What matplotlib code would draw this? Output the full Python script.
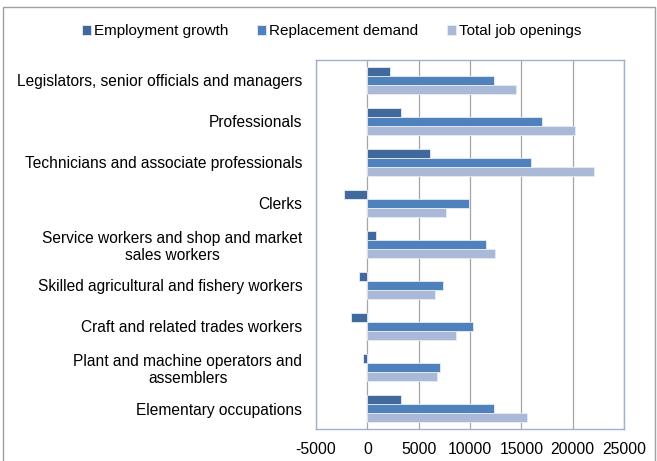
import matplotlib
matplotlib.use("Agg")
import matplotlib.pyplot as plt
import numpy as np
from matplotlib.patches import Rectangle

plt.rcParams['font.family'] = ['Liberation Sans', 'DejaVu Sans']

categories = ["Legislators, senior officials and managers",
              "Professionals",
              "Technicians and associate professionals",
              "Clerks",
              "Service workers and shop and market\nsales workers",
              "Skilled agricultural and fishery workers",
              "Craft and related trades workers",
              "Plant and machine operators and\nassemblers",
              "Elementary occupations"]
employment_growth = [2200, 3250, 6070, -2300, 850, -840, -1560, -390, 3300]
replacement_demand = [12300, 17000, 15900, 9900, 11550, 7400, 10250, 7100, 12300]
total_openings = [14500, 20250, 22050, 7700, 12450, 6600, 8650, 6750, 15550]
series_names = ["Employment growth", "Replacement demand", "Total job openings"]
colors = ["#41699C", "#4F81BD", "#AAB9D8"]
xticks = [-5000, 0, 5000, 10000, 15000, 20000, 25000]

fig = plt.figure(figsize=(6.57, 4.61), dpi=100)
ax = fig.add_axes([0.481, 0.0694, 0.469, 0.8006])

y = np.arange(len(categories))
h = 0.225
for k, (vals, name, c) in enumerate(zip([employment_growth, replacement_demand, total_openings],
                                        series_names, colors)):
    ax.barh(y + (k - 1) * h, vals, height=h, color=c, label=name,
            edgecolor="#E6ECF5", linewidth=0.6, zorder=3)

ax.set_ylim(len(categories) - 0.5, -0.5)
ax.set_xlim(-5000, 25000)
ax.set_xticks(xticks)
ax.set_xticklabels([str(t) for t in xticks], fontsize=11.3)
ax.set_yticks(y)
ax.set_yticklabels(categories, fontsize=11.2, ha="right", multialignment="center")
ax.tick_params(axis="y", length=0, pad=10)
ax.tick_params(axis="x", length=0, pad=9.5)
ax.grid(axis="x", color="#A6A6A6", linewidth=0.9, zorder=0)
for s in ax.spines.values():
    s.set_color("#9FB1CF")
    s.set_linewidth(1.0)

fig.legend(loc="center", bbox_to_anchor=(0.505, 0.932), ncol=3, frameon=False,
           fontsize=11, handlelength=0.6, handleheight=0.6, handletextpad=0.2,
           columnspacing=1.85)

fig.patches.append(Rectangle((0.005, -0.01), 0.992, 0.995, transform=fig.transFigure,
                             fill=False, edgecolor="#A0A0A0", linewidth=1.0))

fig.savefig("out.png", dpi=100)
